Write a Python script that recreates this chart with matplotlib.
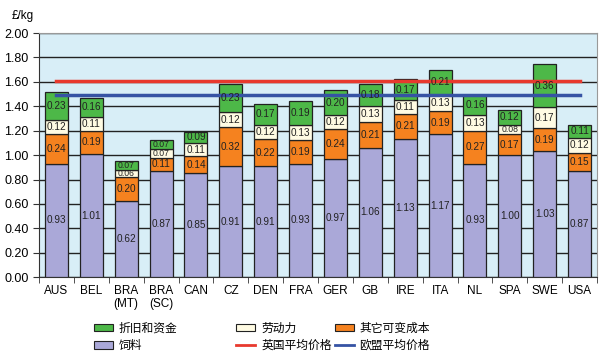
import matplotlib
matplotlib.use("Agg")
import matplotlib.pyplot as plt
import numpy as np
from matplotlib.patches import Patch
from matplotlib.lines import Line2D

plt.rcParams['font.family'] = ['Liberation Sans', 'Noto Sans CJK SC', 'DejaVu Sans']

categories = ["AUS", "BEL", "BRA\n(MT)", "BRA\n(SC)", "CAN", "CZ", "DEN", "FRA",
              "GER", "GB", "IRE", "ITA", "NL", "SPA", "SWE", "USA"]
feed = [0.93, 1.01, 0.62, 0.87, 0.85, 0.91, 0.91, 0.93, 0.97, 1.06, 1.13, 1.17, 0.93, 1.00, 1.03, 0.87]
other_var = [0.24, 0.19, 0.20, 0.11, 0.14, 0.32, 0.22, 0.19, 0.24, 0.21, 0.21, 0.19, 0.27, 0.17, 0.19, 0.15]
labour = [0.12, 0.11, 0.06, 0.07, 0.11, 0.12, 0.12, 0.13, 0.12, 0.13, 0.11, 0.13, 0.13, 0.08, 0.17, 0.12]
depr = [0.23, 0.16, 0.07, 0.07, 0.09, 0.23, 0.17, 0.19, 0.20, 0.18, 0.17, 0.21, 0.16, 0.12, 0.36, 0.11]
uk_avg = 1.61
eu_avg = 1.49

series = [
    ("饲料", feed, "#aaa8d8"),
    ("其它可变成本", other_var, "#f5821f"),
    ("劳动力", labour, "#fffbe3"),
    ("折旧和资金", depr, "#4db848"),
]

fig = plt.figure(figsize=(6.0, 3.59), dpi=100)
ax = fig.add_axes([0.065, 0.228, 0.93, 0.68])
ax.set_facecolor("#d8eef7")

x = np.arange(len(categories))
width = 0.66
bottom = np.zeros(len(categories))
for name, vals, col in series:
    vals = np.array(vals)
    ax.bar(x, vals, width, bottom=bottom, color=col, edgecolor="#222222", linewidth=0.9, zorder=3)
    for xi, b, v in zip(x, bottom, vals):
        fs = 7.2 if v >= 0.09 else 6.2
        ax.text(xi, b + v / 2, f"{v:.2f}", ha="center", va="center", fontsize=fs,
                color="#222222", zorder=5)
    bottom += vals

ax.plot([x[0], x[-1]], [uk_avg, uk_avg], color="#e8392e", lw=2.5, zorder=4)
ax.plot([x[0], x[-1]], [eu_avg, eu_avg], color="#3653a4", lw=2.5, zorder=4)

ax.set_ylim(0, 2.0)
ax.set_xlim(-0.5, len(categories) - 0.5)
ax.set_yticks(np.arange(0, 2.01, 0.2))
ax.set_yticklabels([f"{v:.2f}" for v in np.arange(0, 2.01, 0.2)], fontsize=9)
ax.yaxis.grid(True, color="#222222", linewidth=1.0, zorder=1)
ax.set_axisbelow(True)
ax.set_xticks(x)
ax.set_xticklabels(categories, fontsize=8.5, linespacing=1.1)
ax.tick_params(axis="x", length=0, pad=6)
ax.set_xticks(np.arange(-0.5, len(categories), 1.0), minor=True)
ax.tick_params(axis="x", which="minor", length=4, direction="out", color="#333333")
ax.tick_params(axis="y", length=4, direction="out", color="#333333")
for s in ["top", "right"]:
    ax.spines[s].set_color("#999999")
ax.spines["left"].set_color("#333333")
ax.spines["bottom"].set_color("#333333")

fig.text(0.02, 0.955, "£/kg", fontsize=8.5, va="center")

cjk = ['Noto Sans CJK SC', 'DejaVu Sans']
prop = {"family": cjk, "size": 8.5}
def mk_legend(handles, labels, xpos):
    lg = fig.legend(handles, labels, loc="upper left", bbox_to_anchor=(xpos, 0.12),
                    frameon=False, prop=prop, labelspacing=0.35, handlelength=1.6,
                    handleheight=0.6, handletextpad=0.5, borderpad=0)
    return lg

def patch(c):
    return Patch(facecolor=c, edgecolor="#222222", linewidth=0.8)

mk_legend([patch("#4db848"), patch("#aaa8d8")], ["折旧和资金", "饲料"], 0.147)
mk_legend([patch("#fffbe3"), Line2D([], [], color="#e8392e", lw=2)], ["劳动力", "英国平均价格"], 0.384)
mk_legend([patch("#f5821f"), Line2D([], [], color="#3653a4", lw=2)], ["其它可变成本", "欧盟平均价格"], 0.548)

fig.savefig("out.png", dpi=100)
